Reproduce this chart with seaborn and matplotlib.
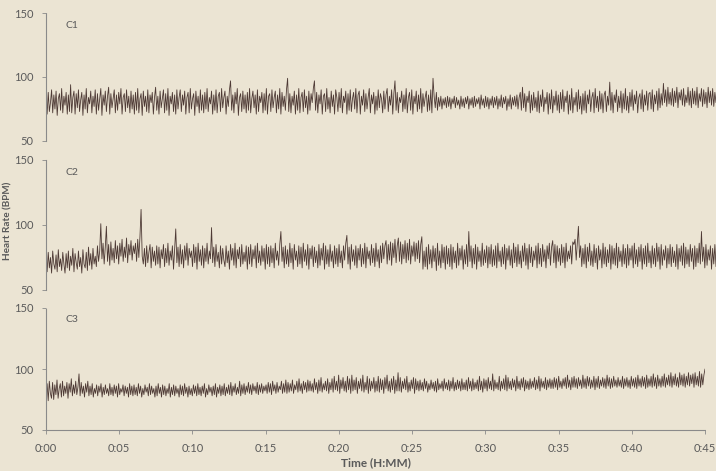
import numpy as np
import pandas as pd
import seaborn as sns
import matplotlib.pyplot as plt

# heart rate readings (BPM), one row per 1.5 minutes
hr_c1 = [
    84,71,88,73,80,90,72,86,75,89,70,83,87,74,91,72,85,78,88,71,
    86,73,94,72,84,89,71,87,76,90,73,82,88,70,86,75,91,72,84,79,
    89,72,85,77,90,71,87,74,83,91,70,86,78,89,73,85,92,71,87,76,
    83,90,72,86,74,88,79,91,71,84,87,73,90,76,85,72,89,75,86,71,
    88,74,91,72,83,87,70,89,77,85,73,90,72,86,80,88,71,84,92,74,
    85,71,89,76,83,90,72,87,74,91,70,85,79,88,73,86,71,90,75,84,
    90,73,86,78,89,71,84,88,72,91,75,83,87,70,89,77,85,72,90,74,
    86,72,88,75,91,73,84,79,89,71,86,74,90,72,85,88,73,91,76,84,
    89,71,85,77,90,97,74,86,72,88,79,91,70,84,87,73,89,75,86,72,
    88,74,91,72,83,89,76,86,71,90,73,85,80,88,72,87,74,91,71,85,
    87,73,90,76,84,89,72,86,75,91,71,88,77,85,74,90,99,73,87,72,
    85,78,89,71,86,74,91,72,84,88,73,90,76,85,71,89,74,87,80,91,
    97,74,88,72,86,79,90,71,85,87,73,91,75,84,72,89,77,86,71,90,
    84,73,88,76,91,72,85,80,89,71,87,74,90,73,83,88,75,91,72,86,
    89,71,85,78,90,73,87,75,84,91,72,86,79,88,71,85,74,90,76,87,
    83,72,89,75,86,91,73,85,78,90,71,87,97,74,88,72,84,80,89,73,
    86,75,91,72,84,88,74,90,71,85,79,89,73,86,75,91,72,87,77,84,
    89,73,86,74,90,72,99,85,76,88,74,84,77,85,75,83,78,84,76,85,
    77,84,75,83,79,85,76,84,78,82,75,85,77,83,76,84,79,85,75,83,
    78,84,76,85,77,83,79,84,75,86,78,83,76,85,77,84,75,83,78,85,
    76,84,78,85,75,83,77,86,76,84,79,85,74,83,77,86,75,84,78,85,
    77,86,75,84,88,74,92,76,87,73,85,80,89,72,86,74,88,76,84,73,
    89,72,86,77,90,73,84,79,88,71,87,75,90,72,85,78,89,74,86,72,
    88,75,90,73,85,80,89,71,86,74,91,72,84,78,88,73,90,75,85,71,
    87,74,89,72,86,79,90,73,84,88,72,91,76,85,73,89,75,87,72,86,
    89,73,85,78,96,74,88,72,86,80,90,73,85,76,89,72,87,75,91,74,
    85,72,88,77,90,74,86,79,89,72,84,87,75,90,73,86,78,89,74,87,
    88,75,90,73,86,79,89,74,91,76,87,78,95,80,90,77,92,79,88,78,
    91,77,89,80,92,76,88,82,90,78,91,77,86,80,92,78,89,76,91,79,
    89,78,92,76,87,81,91,77,90,79,88,76,92,80,89,78,91,77,88,80,
]
hr_c2 = [
    73,64,79,67,75,63,80,70,66,77,64,81,68,74,65,79,70,63,78,67,
    80,65,76,69,82,64,78,71,66,80,68,75,63,81,70,67,79,65,83,69,
    78,66,82,70,76,68,84,72,80,101,74,86,70,83,99,72,85,69,87,73,
    82,71,88,74,84,70,86,76,89,72,83,75,90,71,85,77,88,73,84,78,
    86,72,89,75,91,112,76,70,82,68,84,71,79,85,67,83,72,80,69,84,
    70,83,67,81,74,85,68,82,71,86,69,80,73,84,66,82,97,71,83,68,
    85,70,81,67,84,73,86,69,82,75,80,68,85,71,83,66,86,72,81,69,
    84,67,82,72,86,70,80,74,98,71,83,68,85,72,79,67,84,70,82,73,
    68,84,71,80,66,85,73,82,69,86,67,81,74,83,68,85,70,79,72,84,
    66,83,70,85,68,81,74,84,67,86,71,80,69,84,72,82,66,85,70,83,
    68,84,71,82,67,86,73,80,69,85,95,72,83,67,84,70,81,68,86,71,
    82,66,85,73,80,68,84,70,83,67,86,72,81,69,85,66,82,74,84,68,
    83,71,80,67,85,69,82,73,86,66,84,70,81,68,85,72,80,67,84,70,
    82,68,85,71,80,67,84,73,86,92,70,83,66,85,72,81,69,84,67,82,
    73,85,68,82,70,86,67,83,74,80,69,85,71,82,68,86,72,81,67,84,
    71,86,74,84,88,70,85,73,87,69,86,75,89,71,84,90,72,87,70,85,
    74,88,71,86,73,89,70,84,76,87,72,86,74,88,71,85,91,66,80,68,
    83,66,85,70,81,67,84,72,82,65,86,69,80,67,85,71,83,66,84,70,
    82,68,85,66,83,71,80,67,86,69,82,73,84,66,81,70,85,68,95,72,
    84,67,82,70,85,66,83,72,80,68,86,69,81,71,84,67,83,70,85,68,
    81,69,84,67,86,72,80,68,83,70,85,66,82,73,84,69,81,67,86,71,
    83,68,85,70,80,67,84,72,86,69,82,66,85,71,83,68,80,73,84,67,
    86,70,82,68,85,72,81,67,84,74,86,69,83,88,71,85,67,84,72,82,
    69,85,71,83,67,86,72,80,74,84,70,87,85,89,73,86,99,75,84,68,
    82,70,85,67,83,72,86,69,80,68,85,71,82,66,84,73,81,67,86,70,
    83,68,81,71,85,66,84,70,82,69,86,67,83,72,80,68,85,70,82,67,
    85,69,82,73,84,67,86,70,81,68,83,72,85,66,82,70,84,68,86,71,
    80,67,84,70,82,68,86,72,83,66,85,69,81,73,84,67,82,70,85,68,
    83,71,80,68,85,66,82,72,84,69,86,67,83,70,81,68,85,72,82,66,
    84,68,82,71,86,70,95,72,83,67,85,69,81,73,84,66,82,70,85,68,
]
hr_c3 = [
    77,88,74,90,80,76,89,75,87,79,91,76,84,88,77,90,78,86,80,89,
    76,88,81,92,78,87,80,90,79,85,96,78,89,80,86,77,88,81,90,78,
    86,79,88,77,84,80,87,78,86,81,88,77,85,79,87,80,84,78,88,79,
    85,78,87,80,86,77,88,79,84,81,87,78,86,80,85,77,88,79,86,78,
    87,79,85,78,88,80,86,77,84,79,87,81,85,78,88,79,86,80,84,77,
    86,78,88,80,85,77,87,79,86,78,84,80,88,77,85,79,87,78,86,80,
    84,77,87,79,86,78,88,80,85,77,86,79,84,78,87,80,86,78,88,79,
    85,78,86,80,88,77,84,79,87,81,85,78,86,79,88,77,85,80,87,78,
    86,79,88,78,85,80,87,79,89,78,86,81,88,79,85,80,90,78,87,80,
    88,79,86,81,89,80,87,79,88,82,86,80,89,79,87,81,88,80,86,82,
    87,80,89,81,88,79,90,82,87,80,89,81,86,83,90,80,88,81,91,80,
    89,81,88,82,91,80,87,83,90,81,92,82,88,80,90,83,89,81,91,82,
    90,82,88,81,92,83,89,80,91,82,93,81,88,83,90,82,92,80,89,83,
    92,81,94,83,90,82,95,80,91,84,93,82,90,81,94,83,92,80,95,82,
    91,83,93,80,90,84,92,82,95,81,89,83,94,80,92,82,90,84,93,81,
    90,82,94,81,92,83,91,80,93,84,95,82,90,81,92,83,94,80,91,82,
    97,82,93,81,90,84,92,83,94,81,89,82,91,84,93,80,92,83,90,82,
    91,83,89,82,92,84,90,81,88,83,91,84,89,82,90,81,92,83,88,84,
    90,82,92,84,89,83,91,82,90,84,93,82,89,83,91,84,90,82,92,83,
    89,83,91,82,93,84,90,82,92,83,89,84,91,82,94,83,90,81,92,84,
    91,82,93,84,90,83,96,82,91,84,89,83,94,82,90,84,92,83,95,82,
    93,84,90,83,92,85,91,82,94,84,90,83,92,85,93,82,91,84,90,83,
    92,84,90,85,93,83,91,84,94,82,92,85,90,84,93,83,91,85,92,84,
    91,84,93,85,92,83,94,85,90,84,92,86,93,84,95,85,91,83,93,85,
    94,85,92,84,93,86,91,84,95,85,92,84,94,86,93,84,91,85,94,83,
    92,85,94,84,91,86,93,85,92,84,95,86,93,84,92,85,94,86,91,85,
    93,86,91,85,94,84,92,86,93,85,91,84,94,86,92,85,93,84,95,86,
    92,85,94,86,93,84,95,85,92,86,94,85,96,86,93,84,95,86,92,85,
    94,86,96,85,93,87,95,86,97,85,94,87,96,86,93,85,97,87,95,86,
    96,85,94,87,97,86,95,88,96,85,97,87,94,86,98,85,96,87,95,100,
]
panels = ['C1', 'C2', 'C3']
tick_minutes = [0, 5, 10, 15, 20, 25, 30, 35, 40, 45]
tick_labels = ['0:00', '0:05', '0:10', '0:15', '0:20', '0:25', '0:30', '0:35', '0:40', '0:45']

bg = '#ebe4d3'
trace = '#4e3a35'
grey = '#5a5a5a'

sns.set_theme(style='white')
plt.rcParams['font.family'] = ['Lato', 'DejaVu Sans']

fig = plt.figure(figsize=(7.16, 4.71), dpi=100, facecolor=bg)
boxes = [
    [46 / 716, 1 - 141 / 471, 670 / 716, 128 / 471],
    [46 / 716, 1 - 290 / 471, 670 / 716, 130 / 471],
    [46 / 716, 1 - 430 / 471, 659 / 716, 122 / 471],
]

for i, (name, hr) in enumerate(zip(panels, [hr_c1, hr_c2, hr_c3])):
    ax = fig.add_axes(boxes[i])
    ax.set_facecolor(bg)
    df = pd.DataFrame({'minute': np.linspace(0, 45, len(hr)), 'bpm': hr})
    sns.lineplot(data=df, x='minute', y='bpm', ax=ax, color=trace,
                 linewidth=0.6, estimator=None, sort=False)
    ax.set_xlim(0, 45)
    ax.set_ylim(50, 150)
    ax.set_yticks([50, 100, 150])
    ax.set_xlabel('')
    ax.set_ylabel('')
    for s in ['top', 'right']:
        ax.spines[s].set_visible(False)
    ax.spines['left'].set_linestyle((0, (1, 1)))
    ax.spines['left'].set_color('#8a8a8a')
    ax.spines['left'].set_linewidth(0.8)
    ax.tick_params(axis='y', left=True, length=3, width=0.6, color='#8a8a8a',
                   labelsize=8, labelcolor=grey, pad=6)
    ax.text(20 / boxes[i][2] / 716, 0.94, name, transform=ax.transAxes,
            fontsize=7.5, color=grey, va='top')
    if i < 2:
        ax.spines['bottom'].set_visible(False)
        ax.set_xticks([])
    else:
        ax.spines['bottom'].set_linestyle((0, (1, 1)))
        ax.spines['bottom'].set_color('#8a8a8a')
        ax.spines['bottom'].set_linewidth(0.8)
        ax.set_xticks(tick_minutes)
        ax.set_xticklabels(tick_labels)
        ax.tick_params(axis='x', bottom=True, length=3, width=0.6, color='#8a8a8a',
                       labelsize=8, labelcolor=grey, pad=6)
        ax.set_xlabel('Time (H:MM)', fontsize=8.5, fontweight='bold', color=grey, labelpad=3)

fig.text(8 / 716, 1 - 221 / 471, 'Heart Rate (BPM)', rotation=90, fontsize=7.2,
         fontweight='bold', color=grey, ha='center', va='center')

fig.savefig('out.png', dpi=100, facecolor=bg)
